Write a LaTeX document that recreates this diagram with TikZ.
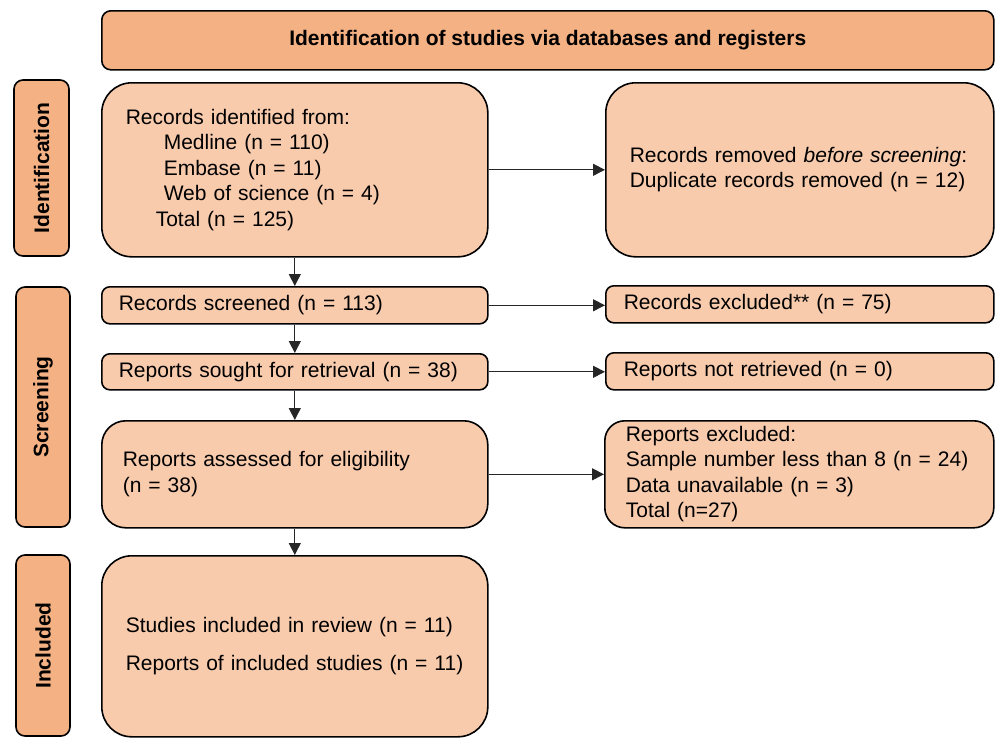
\documentclass[tikz,border=0pt]{standalone}
\usepackage{fontspec}
\setmainfont{Liberation Sans}
\usepackage{tikz}
\usetikzlibrary{arrows.meta}
\definecolor{headfill}{HTML}{F4B183}
\definecolor{boxfill}{HTML}{F8CBAD}
\tikzset{
	BX/.style={draw,line width=1.6pt,fill=boxfill,rounded corners=#1,align=left,anchor=north west,
	inner ysep=0pt,font=\fontsize{21}{25.5}\selectfont}
}
\tikzset{
	PH/.style={draw,line width=1.6pt,fill=headfill,rounded corners=9pt,rotate=90,inner sep=0pt,
	font=\bfseries\fontsize{21}{25}\selectfont}
}
\tikzset{
	AR/.style={-{Triangle[length=12pt,width=12pt]},line width=0.9pt,draw=black!85}
}

\begin{document}
\begin{tikzpicture}[x=1pt,y=-1pt]
	\useasboundingbox (0,0) rectangle (996,739);
	% header
	\node[draw,line width=1.6pt,fill=headfill,rounded corners=9pt,anchor=north west,minimum width=892pt,minimum height=59pt,
	font=\bfseries\fontsize{21}{25}\selectfont] (T) at (101,10) {Identification of studies via databases and registers};
	% phases
	\node[PH,minimum width=176pt,minimum height=55pt] (P1) at (41.5,168) {Identification};
	\node[PH,minimum width=240pt,minimum height=54pt] (P2) at (43,407) {Screening};
	\node[PH,minimum width=181pt,minimum height=54pt] (P3) at (43,645.5) {Included};
	% left column
	\node[BX=30pt,minimum width=386pt,minimum height=174pt,text width=338pt,inner xsep=24pt] (A) at (101,82)
	{Records identified from:\\
	\hspace*{38pt}Medline (n = 110)\\
	\hspace*{38pt}Embase (n = 11)\\
	\hspace*{38pt}Web of science (n = 4)\\
	\hspace*{30pt}Total (n = 125)};
	\node[BX=8pt,minimum width=386pt,minimum height=37pt,text width=352pt,inner xsep=17pt] (B) at (101,286)
	{Records screened (n = 113)};
	\node[BX=8pt,minimum width=386pt,minimum height=36pt,text width=352pt,inner xsep=17pt] (C) at (101,353)
	{Reports sought for retrieval (n = 38)};
	\node[BX=24pt,minimum width=386pt,minimum height=107pt,text width=344pt,inner xsep=21pt] (D) at (101,420)
	{Reports assessed for eligibility\\(n = 38)};
	\node[BX=30pt,minimum width=386pt,minimum height=181pt,text width=338pt,inner xsep=24pt] (E) at (101,555)
	{Studies included in review (n = 11)\\[13pt]
	Reports of included studies (n = 11)};
	% right column
	\node[BX=30pt,minimum width=388pt,minimum height=174pt,text width=340pt,inner xsep=24pt] (A1) at (605,82)
	{Records removed \textit{before screening}:\\
	Duplicate records removed (n = 12)};
	\node[BX=8pt,minimum width=388pt,minimum height=37pt,text width=352pt,inner xsep=18pt] (B1) at (605,285)
	{Records excluded** (n = 75)};
	\node[BX=8pt,minimum width=388pt,minimum height=37pt,text width=352pt,inner xsep=18pt] (C1) at (605,352)
	{Reports not retrieved (n = 0)};
	\node[BX=20pt,minimum width=389pt,minimum height=107pt,text width=347pt,inner xsep=21pt] (D1) at (604,420)
	{Reports excluded:\\
	Sample number less than 8 (n = 24)\\
	Data unavailable (n = 3)\\
	Total (n=27)};
	% arrows
	\draw[AR] (A) -- (B);
	\draw[AR] (B) -- (C);
	\draw[AR] (C) -- (D);
	\draw[AR] (D) -- (E);
	\draw[AR] (A.east) -- (A.east -| A1.west);
	\draw[AR] (B.east) -- (B.east -| B1.west);
	\draw[AR] (C.east) -- (C.east -| C1.west);
	\draw[AR] (D.east) -- (D.east -| D1.west);
\end{tikzpicture}
\end{document}
